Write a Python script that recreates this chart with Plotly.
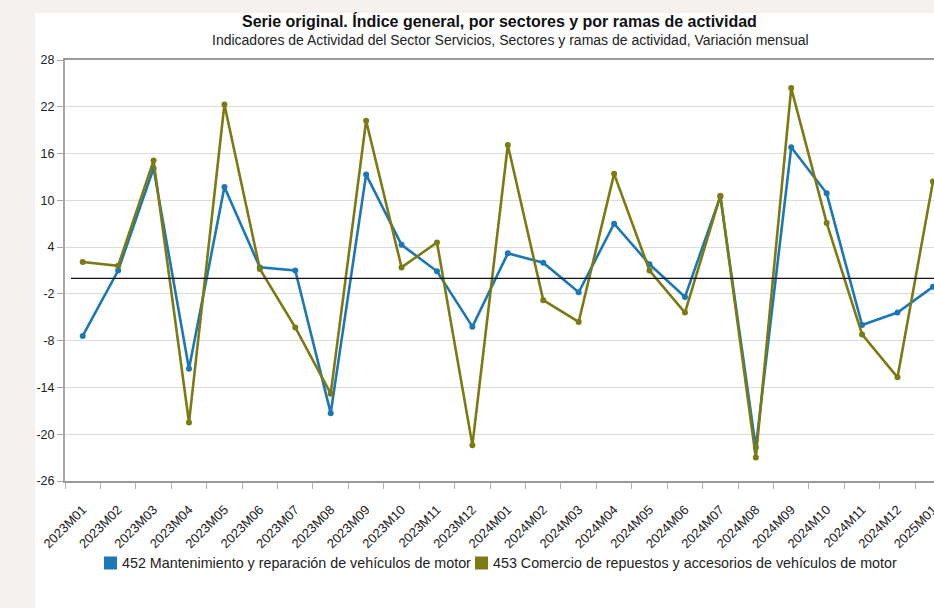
import plotly.graph_objects as go

categories = ["2023M01", "2023M02", "2023M03", "2023M04", "2023M05", "2023M06",
              "2023M07", "2023M08", "2023M09", "2023M10", "2023M11", "2023M12",
              "2024M01", "2024M02", "2024M03", "2024M04", "2024M05", "2024M06",
              "2024M07", "2024M08", "2024M09", "2024M10", "2024M11", "2024M12",
              "2025M01"]

name_452 = "452 Mantenimiento y reparación de vehículos de motor"
name_453 = "453 Comercio de repuestos y accesorios de vehículos de motor"

values_452 = [-7.4, 1.0, 14.1, -11.6, 11.7, 1.4, 1.0, -17.3, 13.3, 4.3, 0.9, -6.2,
              3.2, 2.0, -1.8, 7.0, 1.8, -2.4, 10.5, -21.7, 16.8, 10.9, -6.0, -4.4,
              -1.1]
values_453 = [2.1, 1.6, 15.1, -18.5, 22.3, 1.2, -6.3, -14.8, 20.2, 1.4, 4.6, -21.4,
              17.1, -2.8, -5.6, 13.4, 1.0, -4.4, 10.6, -23.0, 24.4, 7.1, -7.2, -12.7,
              12.4]

y_ticks = [-26, -20, -14, -8, -2, 4, 10, 16, 22, 28]

title_text = "Serie original. Índice general, por sectores y por ramas de actividad"
subtitle_text = ("Indicadores de Actividad del Sector Servicios, Sectores y ramas de "
                 "actividad, Variación mensual")

BLUE = "#1b78b4"
OLIVE = "#7c7a12"
FONT = "Liberation Sans"

fig = go.Figure()

for vals, col, nm in [(values_452, BLUE, name_452), (values_453, OLIVE, name_453)]:
    fig.add_trace(go.Scatter(
        x=categories, y=vals, mode="lines+markers", name=nm,
        line=dict(color=col, width=2.6),
        marker=dict(color=col, size=6),
        showlegend=False, hoverinfo="x+y+name",
    ))

W, H = 934, 608
L, R, T, B = 65, 0, 60, 127
pw, ph = W - L - R, H - T - B

def px_x(p):
    return (p - L) / pw

def px_y(p):
    return (H - B - p) / ph

# manual legend (square swatch + label), laid out in pixels
LEG_Y = 563
LEG_FONT = 14.3
legend_items = [(name_452, BLUE, 104), (name_453, OLIVE, 475)]
leg_shapes, leg_annots = [], []
for nm, col, x0 in legend_items:
    leg_shapes.append(dict(type="rect", xref="paper", yref="paper",
                           x0=px_x(x0), x1=px_x(x0 + 13),
                           y0=px_y(LEG_Y + 6.5), y1=px_y(LEG_Y - 6.5),
                           fillcolor=col, line=dict(width=0)))
    leg_annots.append(dict(text=nm, xref="paper", yref="paper",
                           x=px_x(x0 + 16), y=px_y(LEG_Y),
                           xanchor="left", yanchor="middle", showarrow=False,
                           font=dict(family=FONT, size=LEG_FONT, color="#222222")))

fig.update_layout(
    width=W, height=H,
    margin=dict(l=L, r=R, t=T, b=B, pad=0),
    paper_bgcolor="#f4f1ee",
    plot_bgcolor="rgba(0,0,0,0)",
    font=dict(family=FONT, color="#222222", size=12),
    showlegend=False,
    xaxis=dict(
        type="category", categoryorder="array", categoryarray=categories,
        range=[-0.5, 24.03], automargin=False,
        showgrid=False, showline=True, linecolor="#9a9a9a", linewidth=2,
        mirror=True,
        ticks="outside", tickson="boundaries", ticklen=6, tickcolor="#b0b0b0",
        tickangle=-45, ticklabelstandoff=14,
        tickfont=dict(family=FONT, size=13, color="#222222"),
        zeroline=False,
    ),
    yaxis=dict(
        range=[-26, 28], tickvals=y_ticks, ticktext=[str(v) for v in y_ticks],
        automargin=False,
        showgrid=True, gridcolor="#dcdcdc", gridwidth=1,
        showline=True, linecolor="#a8a8a8", linewidth=2,
        ticks="outside", ticklen=6, tickcolor="#a8a8a8",
        tickfont=dict(family=FONT, size=12.5, color="#222222"),
        zeroline=False,
    ),
    shapes=[
        dict(type="rect", xref="paper", yref="paper",
             x0=px_x(35), x1=1.1, y0=px_y(640), y1=px_y(13),
             fillcolor="white", line=dict(width=0), layer="below"),
        dict(type="line", xref="paper", yref="y",
             x0=px_x(71), x1=1, y0=0, y1=0,
             line=dict(color="#111111", width=1.2), layer="above"),
    ] + leg_shapes,
    annotations=[
        dict(text="<b>" + title_text + "</b>", xref="paper", yref="paper",
             x=px_x(499), y=px_y(21), xanchor="center", yanchor="middle",
             showarrow=False, font=dict(family=FONT, size=16, color="#111111")),
        dict(text=subtitle_text, xref="paper", yref="paper",
             x=px_x(510), y=px_y(40), xanchor="center", yanchor="middle",
             showarrow=False, font=dict(family=FONT, size=14, color="#222222")),
    ] + leg_annots,
)

fig.write_html(
    "out.html",
    config={"displayModeBar": False},
    post_script="document.body.style.margin='0px';document.body.style.overflow='hidden';",
)
